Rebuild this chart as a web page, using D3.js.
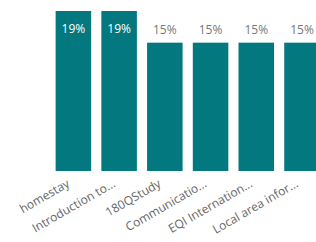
<!DOCTYPE html>
<html>
<head>
<meta charset="utf-8">
<script src="https://cdn.jsdelivr.net/npm/d3@7"></script>
<style>
  body { margin: 0; background: #fff; }
  svg text { font-family: "Segoe UI", "Open Sans", sans-serif; }
</style>
</head>
<body>
<div id="chart"></div>
<script>
// categories as shown (already truncated in the source)
var categories = ["homestay", "Introduction to...", "180QStudy", "Communicatio...", "EQI Internation...", "Local area infor..."];
// share in percent
var values = [19.2, 19.2, 15.4, 15.4, 15.4, 15.4];

var width = 316;
var height = 242;
var bottom = 171;
var barColor = "#03787f";

var svg = d3.select("#chart")
    .append("svg")
    .attr("width", width)
    .attr("height", height);

// x scale
var x = d3.scaleBand()
    .domain(categories)
    .range([50.6, 324.8])
    .paddingInner(0.223)
    .paddingOuter(0.11);

// y scale
var y = d3.scaleLinear()
    .domain([0, 19.2])
    .range([bottom, 11]);

// bars
svg.append("g")
    .selectAll("rect")
    .data(values)
    .enter()
    .append("rect")
    .attr("x", function(d, i) { return x(categories[i]); })
    .attr("y", function(d) { return y(d); })
    .attr("width", x.bandwidth())
    .attr("height", function(d) { return bottom - y(d); })
    .attr("fill", barColor);

// data labels: inside when bar is tall enough, else above
svg.append("g")
    .selectAll("text")
    .data(values)
    .enter()
    .append("text")
    .attr("x", function(d, i) { return x(categories[i]) + x.bandwidth() / 2; })
    .attr("y", function(d) { return d > 18 ? y(d) + 22 : y(d) - 9; })
    .attr("text-anchor", "middle")
    .style("font-size", "12px")
    .style("fill", function(d) { return d > 18 ? "#ffffff" : "#777777"; })
    .text(function(d) { return Math.round(d) + "%"; });

// x axis, rotated labels
var axis = svg.append("g")
    .attr("transform", "translate(0," + bottom + ")")
    .call(d3.axisBottom(x).tickSize(0).tickPadding(0));
axis.select(".domain").remove();
axis.selectAll("text")
    .attr("y", 0)
    .attr("dy", 0)
    .attr("transform", "translate(-3,15) rotate(-30)")
    .style("text-anchor", "end")
    .style("font-size", "12px")
    .style("font-family", "'Segoe UI', 'Open Sans', sans-serif")
    .style("fill", "#666666");
</script>
</body>
</html>
